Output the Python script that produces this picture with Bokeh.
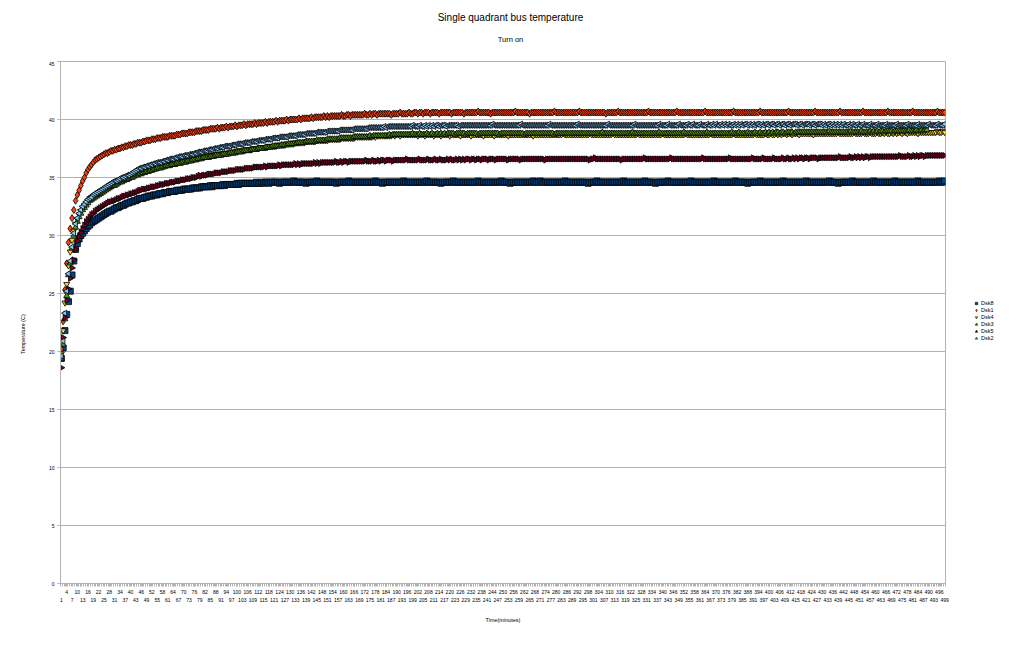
import math
from bokeh.plotting import figure
from bokeh.layouts import column, row
from bokeh.models import Range1d, FixedTicker, LinearAxis, Legend, LegendItem, Label
from bokeh.embed import file_html
from bokeh.resources import INLINE

# ---------------- data (temperature in C, one reading per minute) ----------------
SERIES = ["Dsk8", "Dsk1", "Dsk4", "Dsk3", "Dsk5", "Dsk2"]

dsk8 = [
    19.4, 20.3, 21.8, 23.2, 24.3, 25.2, 26.6, 27.8, 28.8, 29.3,
    29.7, 30.0, 30.2, 30.4, 30.6, 30.8, 30.9, 31.1, 31.2, 31.3,
    31.4, 31.5, 31.6, 31.7, 31.8, 31.9, 32.0, 32.1, 32.1, 32.2,
    32.3, 32.4, 32.4, 32.5, 32.6, 32.6, 32.7, 32.8, 32.8, 32.9,
    32.9, 33.0, 33.0, 33.1, 33.2, 33.2, 33.2, 33.3, 33.3, 33.4,
    33.4, 33.4, 33.5, 33.5, 33.5, 33.6, 33.6, 33.6, 33.7, 33.7,
    33.7, 33.8, 33.8, 33.8, 33.8, 33.9, 33.9, 33.9, 33.9, 34.0,
    34.0, 34.0, 34.0, 34.0, 34.1, 34.1, 34.1, 34.1, 34.1, 34.2,
    34.2, 34.2, 34.2, 34.2, 34.3, 34.2, 34.3, 34.3, 34.3, 34.3,
    34.3, 34.4, 34.3, 34.4, 34.4, 34.4, 34.4, 34.4, 34.4, 34.5,
    34.4, 34.5, 34.5, 34.5, 34.5, 34.5, 34.5, 34.5, 34.5, 34.5,
    34.6, 34.5, 34.5, 34.6, 34.5, 34.6, 34.6, 34.5, 34.6, 34.6,
    34.6, 34.6, 34.6, 34.5, 34.6, 34.6, 34.6, 34.6, 34.6, 34.6,
    34.6, 34.7, 34.6, 34.6, 34.6, 34.6, 34.6, 34.6, 34.5, 34.6,
    34.6, 34.6, 34.6, 34.6, 34.7, 34.6, 34.6, 34.6, 34.6, 34.6,
    34.6, 34.6, 34.6, 34.6, 34.6, 34.5, 34.6, 34.6, 34.6, 34.6,
    34.6, 34.6, 34.7, 34.6, 34.6, 34.6, 34.6, 34.6, 34.6, 34.6,
    34.6, 34.6, 34.6, 34.6, 34.6, 34.6, 34.6, 34.7, 34.6, 34.6,
    34.6, 34.5, 34.6, 34.6, 34.6, 34.6, 34.6, 34.6, 34.6, 34.6,
    34.6, 34.6, 34.6, 34.7, 34.6, 34.6, 34.6, 34.6, 34.6, 34.6,
    34.6, 34.6, 34.6, 34.6, 34.6, 34.6, 34.7, 34.6, 34.6, 34.6,
    34.6, 34.6, 34.6, 34.6, 34.5, 34.6, 34.6, 34.6, 34.6, 34.6,
    34.6, 34.7, 34.6, 34.6, 34.6, 34.6, 34.6, 34.6, 34.6, 34.6,
    34.6, 34.6, 34.6, 34.6, 34.6, 34.7, 34.6, 34.6, 34.6, 34.6,
    34.6, 34.6, 34.6, 34.6, 34.6, 34.6, 34.6, 34.6, 34.7, 34.6,
    34.6, 34.6, 34.6, 34.5, 34.6, 34.6, 34.6, 34.6, 34.6, 34.6,
    34.6, 34.6, 34.6, 34.6, 34.6, 34.6, 34.7, 34.6, 34.6, 34.6,
    34.7, 34.6, 34.6, 34.6, 34.6, 34.6, 34.6, 34.6, 34.6, 34.6,
    34.6, 34.6, 34.6, 34.6, 34.7, 34.6, 34.6, 34.6, 34.6, 34.6,
    34.6, 34.6, 34.6, 34.6, 34.6, 34.6, 34.6, 34.5, 34.6, 34.6,
    34.6, 34.6, 34.7, 34.6, 34.6, 34.6, 34.6, 34.6, 34.6, 34.6,
    34.6, 34.6, 34.6, 34.6, 34.6, 34.6, 34.6, 34.7, 34.6, 34.6,
    34.6, 34.6, 34.6, 34.6, 34.6, 34.6, 34.6, 34.6, 34.6, 34.7,
    34.6, 34.6, 34.6, 34.6, 34.6, 34.5, 34.6, 34.6, 34.6, 34.6,
    34.6, 34.6, 34.7, 34.6, 34.6, 34.6, 34.6, 34.6, 34.6, 34.6,
    34.6, 34.6, 34.6, 34.6, 34.6, 34.7, 34.6, 34.6, 34.6, 34.6,
    34.6, 34.6, 34.6, 34.6, 34.6, 34.6, 34.6, 34.6, 34.7, 34.6,
    34.6, 34.6, 34.6, 34.6, 34.6, 34.6, 34.6, 34.6, 34.6, 34.6,
    34.7, 34.6, 34.6, 34.6, 34.6, 34.6, 34.6, 34.5, 34.6, 34.6,
    34.6, 34.6, 34.6, 34.6, 34.7, 34.6, 34.6, 34.6, 34.6, 34.6,
    34.6, 34.6, 34.6, 34.6, 34.6, 34.6, 34.6, 34.7, 34.6, 34.6,
    34.6, 34.6, 34.6, 34.6, 34.6, 34.6, 34.6, 34.6, 34.6, 34.6,
    34.7, 34.6, 34.6, 34.6, 34.6, 34.6, 34.6, 34.6, 34.6, 34.6,
    34.6, 34.6, 34.6, 34.7, 34.6, 34.6, 34.6, 34.6, 34.5, 34.6,
    34.6, 34.6, 34.6, 34.6, 34.6, 34.6, 34.7, 34.6, 34.6, 34.6,
    34.6, 34.6, 34.6, 34.6, 34.6, 34.6, 34.6, 34.6, 34.7, 34.6,
    34.6, 34.6, 34.6, 34.6, 34.6, 34.6, 34.6, 34.6, 34.6, 34.6,
    34.7, 34.6, 34.6, 34.6, 34.6, 34.6, 34.6, 34.6, 34.6, 34.6,
    34.6, 34.6, 34.6, 34.7, 34.6, 34.6, 34.6, 34.6, 34.6, 34.6,
    34.6, 34.6, 34.6, 34.6, 34.6, 34.7, 34.6, 34.6, 34.7,
]

dsk1 = [
    20.2, 22.6, 25.3, 27.6, 29.4, 30.6, 31.5, 32.2, 33.0, 33.5,
    33.9, 34.3, 34.7, 35.0, 35.4, 35.7, 35.9, 36.1, 36.3, 36.5,
    36.6, 36.7, 36.8, 36.9, 37.0, 37.1, 37.1, 37.2, 37.3, 37.3,
    37.4, 37.4, 37.5, 37.5, 37.6, 37.6, 37.7, 37.7, 37.8, 37.8,
    37.8, 37.9, 37.9, 38.0, 38.0, 38.0, 38.1, 38.1, 38.2, 38.2,
    38.2, 38.3, 38.3, 38.3, 38.4, 38.4, 38.4, 38.5, 38.5, 38.5,
    38.5, 38.6, 38.6, 38.6, 38.6, 38.7, 38.7, 38.7, 38.8, 38.8,
    38.8, 38.8, 38.9, 38.9, 38.9, 38.9, 39.0, 39.0, 39.0, 39.0,
    39.1, 39.1, 39.1, 39.1, 39.2, 39.2, 39.2, 39.2, 39.3, 39.2,
    39.3, 39.3, 39.3, 39.4, 39.3, 39.4, 39.4, 39.4, 39.5, 39.4,
    39.5, 39.5, 39.5, 39.6, 39.5, 39.6, 39.6, 39.6, 39.6, 39.7,
    39.6, 39.7, 39.7, 39.7, 39.7, 39.8, 39.7, 39.8, 39.8, 39.8,
    39.8, 39.9, 39.8, 39.9, 39.9, 39.9, 39.9, 40.0, 39.9, 40.0,
    40.0, 40.0, 40.0, 40.0, 40.1, 40.0, 40.1, 40.1, 40.1, 40.1,
    40.1, 40.2, 40.1, 40.2, 40.2, 40.2, 40.2, 40.2, 40.3, 40.2,
    40.3, 40.2, 40.3, 40.3, 40.3, 40.3, 40.3, 40.3, 40.4, 40.3,
    40.3, 40.4, 40.4, 40.3, 40.4, 40.4, 40.4, 40.4, 40.4, 40.4,
    40.4, 40.5, 40.4, 40.4, 40.5, 40.4, 40.5, 40.5, 40.4, 40.5,
    40.5, 40.5, 40.5, 40.5, 40.5, 40.5, 40.4, 40.5, 40.5, 40.5,
    40.5, 40.6, 40.5, 40.5, 40.5, 40.5, 40.6, 40.5, 40.5, 40.6,
    40.6, 40.5, 40.6, 40.6, 40.5, 40.6, 40.6, 40.6, 40.5, 40.6,
    40.6, 40.6, 40.6, 40.5, 40.6, 40.6, 40.6, 40.6, 40.6, 40.6,
    40.5, 40.6, 40.6, 40.6, 40.6, 40.6, 40.6, 40.5, 40.6, 40.6,
    40.6, 40.6, 40.6, 40.6, 40.6, 40.7, 40.6, 40.6, 40.6, 40.6,
    40.6, 40.6, 40.5, 40.6, 40.6, 40.6, 40.6, 40.6, 40.6, 40.6,
    40.6, 40.6, 40.6, 40.6, 40.6, 40.6, 40.7, 40.6, 40.6, 40.6,
    40.6, 40.6, 40.6, 40.6, 40.5, 40.6, 40.6, 40.6, 40.6, 40.6,
    40.6, 40.6, 40.6, 40.6, 40.6, 40.6, 40.6, 40.6, 40.7, 40.6,
    40.6, 40.6, 40.6, 40.6, 40.6, 40.6, 40.6, 40.6, 40.6, 40.6,
    40.6, 40.6, 40.7, 40.6, 40.6, 40.6, 40.6, 40.6, 40.6, 40.6,
    40.6, 40.6, 40.6, 40.6, 40.6, 40.6, 40.6, 40.5, 40.6, 40.6,
    40.6, 40.6, 40.6, 40.6, 40.7, 40.6, 40.6, 40.6, 40.6, 40.6,
    40.6, 40.6, 40.6, 40.6, 40.6, 40.6, 40.6, 40.6, 40.6, 40.6,
    40.6, 40.7, 40.6, 40.6, 40.6, 40.6, 40.6, 40.6, 40.6, 40.6,
    40.6, 40.6, 40.6, 40.6, 40.6, 40.6, 40.6, 40.7, 40.6, 40.6,
    40.6, 40.6, 40.6, 40.6, 40.6, 40.6, 40.6, 40.6, 40.6, 40.6,
    40.6, 40.6, 40.6, 40.7, 40.6, 40.6, 40.6, 40.6, 40.6, 40.6,
    40.6, 40.6, 40.6, 40.6, 40.6, 40.6, 40.6, 40.6, 40.6, 40.7,
    40.6, 40.6, 40.6, 40.6, 40.6, 40.6, 40.6, 40.6, 40.6, 40.6,
    40.6, 40.6, 40.6, 40.6, 40.7, 40.6, 40.6, 40.6, 40.6, 40.6,
    40.6, 40.6, 40.6, 40.6, 40.6, 40.6, 40.6, 40.6, 40.6, 40.6,
    40.7, 40.6, 40.6, 40.6, 40.6, 40.6, 40.6, 40.6, 40.6, 40.6,
    40.6, 40.6, 40.6, 40.6, 40.6, 40.7, 40.6, 40.6, 40.6, 40.6,
    40.6, 40.6, 40.6, 40.6, 40.6, 40.6, 40.6, 40.6, 40.6, 40.7,
    40.6, 40.6, 40.6, 40.6, 40.6, 40.6, 40.6, 40.6, 40.6, 40.6,
    40.6, 40.6, 40.7, 40.6, 40.6, 40.6, 40.6, 40.6, 40.6, 40.6,
    40.6, 40.6, 40.6, 40.6, 40.6, 40.6, 40.7, 40.6, 40.6, 40.6,
    40.6, 40.6, 40.6, 40.6, 40.6, 40.6, 40.6, 40.6, 40.6, 40.6,
    40.7, 40.6, 40.6, 40.6, 40.6, 40.6, 40.6, 40.6, 40.6, 40.6,
    40.6, 40.6, 40.6, 40.6, 40.7, 40.6, 40.6, 40.6, 40.6,
]

dsk4 = [
    19.8, 21.8, 24.2, 25.8, 27.4, 28.6, 29.6, 30.4, 31.0, 31.4,
    31.8, 32.1, 32.4, 32.6, 32.8, 33.0, 33.2, 33.3, 33.4, 33.5,
    33.6, 33.7, 33.8, 33.9, 34.0, 34.1, 34.2, 34.3, 34.4, 34.4,
    34.5, 34.6, 34.7, 34.7, 34.8, 34.9, 34.9, 35.0, 35.1, 35.1,
    35.2, 35.2, 35.3, 35.4, 35.4, 35.5, 35.5, 35.6, 35.6, 35.7,
    35.7, 35.8, 35.8, 35.8, 35.9, 35.9, 36.0, 36.0, 36.0, 36.1,
    36.1, 36.2, 36.2, 36.2, 36.3, 36.3, 36.3, 36.4, 36.4, 36.4,
    36.5, 36.5, 36.5, 36.6, 36.6, 36.6, 36.7, 36.7, 36.7, 36.7,
    36.8, 36.8, 36.8, 36.9, 36.9, 36.9, 36.9, 37.0, 37.0, 37.0,
    37.0, 37.1, 37.1, 37.1, 37.1, 37.2, 37.2, 37.2, 37.2, 37.3,
    37.3, 37.3, 37.3, 37.4, 37.4, 37.4, 37.4, 37.4, 37.5, 37.5,
    37.5, 37.5, 37.6, 37.6, 37.6, 37.6, 37.6, 37.7, 37.7, 37.7,
    37.7, 37.7, 37.8, 37.8, 37.8, 37.8, 37.8, 37.9, 37.9, 37.9,
    37.9, 37.9, 38.0, 38.0, 38.0, 38.0, 38.0, 38.0, 38.1, 38.1,
    38.1, 38.1, 38.1, 38.1, 38.2, 38.2, 38.2, 38.2, 38.2, 38.2,
    38.2, 38.3, 38.3, 38.3, 38.3, 38.3, 38.3, 38.3, 38.4, 38.4,
    38.4, 38.4, 38.4, 38.4, 38.4, 38.4, 38.5, 38.5, 38.5, 38.5,
    38.5, 38.5, 38.5, 38.5, 38.5, 38.5, 38.6, 38.5, 38.6, 38.6,
    38.6, 38.6, 38.6, 38.6, 38.6, 38.6, 38.6, 38.7, 38.6, 38.7,
    38.7, 38.6, 38.7, 38.7, 38.7, 38.7, 38.7, 38.7, 38.7, 38.7,
    38.7, 38.6, 38.7, 38.7, 38.7, 38.6, 38.7, 38.7, 38.7, 38.7,
    38.6, 38.7, 38.7, 38.7, 38.6, 38.7, 38.7, 38.7, 38.7, 38.6,
    38.7, 38.7, 38.7, 38.7, 38.7, 38.6, 38.7, 38.7, 38.7, 38.7,
    38.7, 38.6, 38.7, 38.7, 38.7, 38.7, 38.7, 38.7, 38.6, 38.7,
    38.7, 38.7, 38.7, 38.7, 38.6, 38.7, 38.7, 38.7, 38.7, 38.7,
    38.7, 38.7, 38.6, 38.7, 38.7, 38.7, 38.7, 38.7, 38.7, 38.7,
    38.7, 38.7, 38.7, 38.7, 38.7, 38.7, 38.6, 38.7, 38.7, 38.7,
    38.7, 38.7, 38.7, 38.7, 38.7, 38.7, 38.7, 38.7, 38.7, 38.7,
    38.7, 38.7, 38.7, 38.8, 38.7, 38.7, 38.7, 38.7, 38.7, 38.7,
    38.7, 38.7, 38.7, 38.7, 38.7, 38.7, 38.7, 38.7, 38.8, 38.7,
    38.7, 38.7, 38.7, 38.7, 38.7, 38.7, 38.7, 38.7, 38.7, 38.7,
    38.7, 38.8, 38.7, 38.7, 38.7, 38.7, 38.7, 38.7, 38.7, 38.7,
    38.7, 38.7, 38.7, 38.7, 38.7, 38.8, 38.7, 38.7, 38.7, 38.7,
    38.7, 38.7, 38.7, 38.7, 38.7, 38.7, 38.7, 38.7, 38.7, 38.8,
    38.7, 38.7, 38.7, 38.7, 38.7, 38.7, 38.7, 38.7, 38.7, 38.7,
    38.7, 38.7, 38.8, 38.7, 38.7, 38.7, 38.7, 38.7, 38.7, 38.7,
    38.7, 38.7, 38.7, 38.7, 38.7, 38.7, 38.8, 38.7, 38.7, 38.7,
    38.7, 38.7, 38.7, 38.7, 38.7, 38.7, 38.7, 38.7, 38.7, 38.8,
    38.7, 38.7, 38.7, 38.7, 38.7, 38.7, 38.7, 38.7, 38.7, 38.7,
    38.7, 38.8, 38.7, 38.7, 38.7, 38.7, 38.7, 38.8, 38.7, 38.7,
    38.8, 38.7, 38.7, 38.8, 38.7, 38.8, 38.7, 38.8, 38.8, 38.7,
    38.8, 38.8, 38.7, 38.8, 38.8, 38.8, 38.7, 38.8, 38.8, 38.8,
    38.8, 38.8, 38.8, 38.8, 38.7, 38.8, 38.8, 38.8, 38.8, 38.8,
    38.8, 38.8, 38.8, 38.8, 38.8, 38.8, 38.8, 38.8, 38.9, 38.8,
    38.8, 38.8, 38.8, 38.8, 38.8, 38.8, 38.8, 38.9, 38.8, 38.8,
    38.8, 38.8, 38.9, 38.8, 38.8, 38.8, 38.9, 38.8, 38.8, 38.8,
    38.9, 38.8, 38.8, 38.9, 38.8, 38.9, 38.8, 38.8, 38.9, 38.8,
    38.9, 38.8, 38.9, 38.9, 38.8, 38.9, 38.9, 38.8, 38.9, 38.9,
    38.9, 38.9, 38.9, 38.8, 38.9, 38.9, 38.9, 38.9, 38.9, 38.9,
    38.9, 38.9, 38.9, 38.9, 39.0, 38.9, 38.9, 39.0, 38.9,
]

dsk3 = [
    19.4, 20.6, 22.8, 24.8, 26.6, 27.6, 28.9, 30.0, 30.7, 31.2,
    31.6, 31.9, 32.2, 32.4, 32.6, 32.8, 33.0, 33.1, 33.2, 33.3,
    33.4, 33.5, 33.6, 33.7, 33.8, 33.9, 34.0, 34.1, 34.2, 34.3,
    34.3, 34.4, 34.5, 34.6, 34.6, 34.7, 34.8, 34.8, 34.9, 35.0,
    35.0, 35.1, 35.2, 35.2, 35.3, 35.3, 35.4, 35.4, 35.5, 35.5,
    35.6, 35.6, 35.7, 35.7, 35.8, 35.8, 35.8, 35.9, 35.9, 36.0,
    36.0, 36.0, 36.1, 36.1, 36.1, 36.2, 36.2, 36.2, 36.3, 36.3,
    36.3, 36.4, 36.4, 36.4, 36.5, 36.5, 36.5, 36.6, 36.6, 36.6,
    36.7, 36.7, 36.7, 36.7, 36.8, 36.8, 36.8, 36.9, 36.9, 36.9,
    36.9, 37.0, 37.0, 37.0, 37.0, 37.1, 37.1, 37.1, 37.1, 37.2,
    37.2, 37.2, 37.2, 37.3, 37.3, 37.3, 37.3, 37.4, 37.4, 37.4,
    37.4, 37.5, 37.5, 37.5, 37.5, 37.6, 37.6, 37.6, 37.6, 37.7,
    37.7, 37.7, 37.7, 37.7, 37.8, 37.8, 37.8, 37.8, 37.9, 37.9,
    37.9, 37.9, 37.9, 38.0, 38.0, 38.0, 38.0, 38.0, 38.1, 38.1,
    38.1, 38.1, 38.1, 38.1, 38.2, 38.2, 38.2, 38.2, 38.2, 38.2,
    38.3, 38.3, 38.3, 38.3, 38.3, 38.3, 38.3, 38.4, 38.4, 38.4,
    38.4, 38.4, 38.4, 38.4, 38.4, 38.5, 38.5, 38.5, 38.5, 38.5,
    38.5, 38.5, 38.5, 38.5, 38.6, 38.5, 38.6, 38.6, 38.6, 38.6,
    38.6, 38.6, 38.6, 38.6, 38.6, 38.7, 38.6, 38.7, 38.7, 38.7,
    38.7, 38.7, 38.7, 38.7, 38.7, 38.7, 38.7, 38.7, 38.8, 38.7,
    38.7, 38.7, 38.8, 38.7, 38.7, 38.7, 38.8, 38.7, 38.7, 38.8,
    38.7, 38.7, 38.8, 38.7, 38.8, 38.7, 38.8, 38.7, 38.8, 38.8,
    38.8, 38.8, 38.7, 38.8, 38.8, 38.8, 38.8, 38.8, 38.7, 38.8,
    38.8, 38.8, 38.8, 38.8, 38.8, 38.7, 38.8, 38.8, 38.8, 38.8,
    38.8, 38.8, 38.8, 38.8, 38.8, 38.8, 38.8, 38.7, 38.8, 38.8,
    38.8, 38.8, 38.8, 38.8, 38.8, 38.8, 38.8, 38.8, 38.8, 38.8,
    38.8, 38.7, 38.8, 38.8, 38.8, 38.8, 38.8, 38.8, 38.8, 38.8,
    38.8, 38.8, 38.8, 38.8, 38.8, 38.8, 38.8, 38.8, 38.7, 38.8,
    38.8, 38.8, 38.8, 38.8, 38.8, 38.8, 38.8, 38.8, 38.8, 38.8,
    38.8, 38.8, 38.8, 38.8, 38.8, 38.8, 38.8, 38.8, 38.8, 38.8,
    38.8, 38.8, 38.8, 38.8, 38.8, 38.9, 38.8, 38.8, 38.8, 38.8,
    38.8, 38.8, 38.8, 38.8, 38.8, 38.8, 38.8, 38.8, 38.8, 38.8,
    38.8, 38.8, 38.9, 38.8, 38.8, 38.8, 38.8, 38.8, 38.8, 38.8,
    38.8, 38.8, 38.8, 38.8, 38.8, 38.8, 38.8, 38.9, 38.8, 38.8,
    38.8, 38.8, 38.8, 38.8, 38.8, 38.8, 38.8, 38.8, 38.8, 38.8,
    38.8, 38.9, 38.8, 38.8, 38.8, 38.8, 38.8, 38.8, 38.8, 38.8,
    38.8, 38.8, 38.8, 38.8, 38.9, 38.8, 38.8, 38.8, 38.8, 38.8,
    38.8, 38.8, 38.8, 38.8, 38.8, 38.8, 38.8, 38.8, 38.9, 38.8,
    38.8, 38.8, 38.9, 38.8, 38.8, 38.8, 38.8, 38.9, 38.8, 38.8,
    38.8, 38.9, 38.8, 38.8, 38.9, 38.8, 38.8, 38.9, 38.8, 38.9,
    38.8, 38.9, 38.8, 38.9, 38.9, 38.8, 38.9, 38.9, 38.8, 38.9,
    38.9, 38.9, 38.9, 38.8, 38.9, 38.9, 38.9, 38.9, 38.9, 38.9,
    38.9, 38.9, 38.9, 38.9, 38.9, 38.9, 38.9, 38.9, 38.9, 38.9,
    38.9, 38.9, 38.9, 39.0, 38.9, 38.9, 38.9, 38.9, 38.9, 38.9,
    38.9, 38.9, 38.9, 38.9, 38.9, 39.0, 38.9, 38.9, 38.9, 38.9,
    38.9, 39.0, 38.9, 38.9, 38.9, 38.9, 39.0, 38.9, 39.0, 38.9,
    39.0, 38.9, 39.0, 39.0, 38.9, 39.0, 39.0, 39.0, 39.0, 38.9,
    39.0, 39.0, 39.0, 39.0, 39.0, 39.0, 39.0, 39.0, 39.1, 39.0,
    39.0, 39.0, 39.1, 39.0, 39.0, 39.1, 39.0, 39.1, 39.1,
]

dsk5 = [
    18.6, 21.2, 22.9, 24.4, 25.4, 26.3, 27.2, 27.9, 28.8, 29.5,
    29.9, 30.3, 30.6, 30.9, 31.2, 31.4, 31.6, 31.8, 31.9, 32.1,
    32.2, 32.3, 32.4, 32.5, 32.6, 32.7, 32.8, 32.9, 32.9, 33.0,
    33.0, 33.1, 33.2, 33.2, 33.3, 33.4, 33.4, 33.5, 33.5, 33.6,
    33.6, 33.7, 33.7, 33.8, 33.9, 33.9, 34.0, 34.0, 34.0, 34.1,
    34.1, 34.2, 34.2, 34.2, 34.3, 34.3, 34.4, 34.4, 34.4, 34.5,
    34.5, 34.5, 34.6, 34.6, 34.6, 34.7, 34.7, 34.7, 34.8, 34.8,
    34.8, 34.9, 34.9, 34.9, 35.0, 35.0, 35.0, 35.1, 35.2, 35.1,
    35.2, 35.2, 35.2, 35.3, 35.3, 35.3, 35.3, 35.4, 35.4, 35.4,
    35.4, 35.5, 35.5, 35.5, 35.5, 35.6, 35.6, 35.6, 35.6, 35.7,
    35.7, 35.7, 35.7, 35.7, 35.8, 35.8, 35.8, 35.8, 35.8, 35.9,
    35.9, 35.9, 35.9, 35.9, 35.9, 36.0, 35.9, 36.0, 36.0, 36.0,
    36.0, 36.0, 36.0, 36.1, 36.0, 36.1, 36.1, 36.1, 36.1, 36.1,
    36.1, 36.1, 36.2, 36.1, 36.2, 36.1, 36.2, 36.2, 36.2, 36.2,
    36.2, 36.2, 36.2, 36.3, 36.2, 36.3, 36.2, 36.3, 36.3, 36.3,
    36.3, 36.3, 36.3, 36.3, 36.3, 36.4, 36.3, 36.3, 36.4, 36.3,
    36.4, 36.4, 36.3, 36.4, 36.4, 36.4, 36.4, 36.4, 36.4, 36.4,
    36.4, 36.4, 36.5, 36.4, 36.4, 36.4, 36.5, 36.4, 36.4, 36.5,
    36.4, 36.5, 36.5, 36.4, 36.5, 36.5, 36.5, 36.4, 36.5, 36.5,
    36.5, 36.5, 36.5, 36.5, 36.5, 36.6, 36.5, 36.5, 36.5, 36.5,
    36.5, 36.5, 36.6, 36.5, 36.5, 36.5, 36.5, 36.6, 36.5, 36.5,
    36.5, 36.6, 36.5, 36.5, 36.6, 36.5, 36.5, 36.5, 36.6, 36.5,
    36.6, 36.5, 36.5, 36.6, 36.5, 36.6, 36.5, 36.6, 36.5, 36.6,
    36.6, 36.5, 36.6, 36.6, 36.5, 36.6, 36.6, 36.5, 36.6, 36.6,
    36.6, 36.5, 36.6, 36.6, 36.6, 36.5, 36.6, 36.6, 36.6, 36.6,
    36.6, 36.6, 36.5, 36.6, 36.6, 36.6, 36.6, 36.6, 36.6, 36.5,
    36.6, 36.6, 36.6, 36.6, 36.6, 36.6, 36.6, 36.6, 36.6, 36.6,
    36.6, 36.6, 36.6, 36.5, 36.6, 36.6, 36.6, 36.6, 36.6, 36.6,
    36.6, 36.6, 36.6, 36.6, 36.6, 36.6, 36.6, 36.6, 36.6, 36.6,
    36.6, 36.6, 36.6, 36.6, 36.6, 36.6, 36.6, 36.6, 36.5, 36.6,
    36.6, 36.7, 36.6, 36.6, 36.6, 36.6, 36.6, 36.6, 36.6, 36.6,
    36.6, 36.6, 36.6, 36.6, 36.6, 36.6, 36.5, 36.6, 36.6, 36.6,
    36.6, 36.6, 36.6, 36.6, 36.6, 36.6, 36.6, 36.6, 36.6, 36.7,
    36.6, 36.6, 36.6, 36.6, 36.6, 36.6, 36.6, 36.6, 36.6, 36.6,
    36.6, 36.6, 36.6, 36.6, 36.7, 36.6, 36.6, 36.6, 36.6, 36.6,
    36.6, 36.6, 36.6, 36.6, 36.6, 36.6, 36.6, 36.6, 36.6, 36.6,
    36.6, 36.6, 36.7, 36.6, 36.6, 36.6, 36.6, 36.6, 36.6, 36.6,
    36.6, 36.6, 36.6, 36.6, 36.6, 36.6, 36.6, 36.7, 36.6, 36.6,
    36.6, 36.6, 36.6, 36.6, 36.6, 36.6, 36.6, 36.6, 36.6, 36.6,
    36.7, 36.6, 36.6, 36.6, 36.6, 36.6, 36.7, 36.6, 36.6, 36.6,
    36.6, 36.6, 36.7, 36.6, 36.6, 36.6, 36.6, 36.7, 36.6, 36.6,
    36.7, 36.6, 36.6, 36.7, 36.6, 36.7, 36.6, 36.7, 36.7, 36.6,
    36.7, 36.7, 36.6, 36.7, 36.7, 36.7, 36.7, 36.6, 36.7, 36.7,
    36.7, 36.7, 36.7, 36.7, 36.7, 36.7, 36.7, 36.7, 36.7, 36.8,
    36.7, 36.7, 36.7, 36.7, 36.7, 36.8, 36.7, 36.7, 36.8, 36.7,
    36.8, 36.7, 36.8, 36.7, 36.8, 36.8, 36.7, 36.8, 36.8, 36.8,
    36.8, 36.8, 36.8, 36.8, 36.8, 36.8, 36.8, 36.8, 36.8, 36.8,
    36.8, 36.8, 36.8, 36.9, 36.8, 36.8, 36.8, 36.8, 36.9, 36.8,
    36.8, 36.9, 36.8, 36.9, 36.8, 36.9, 36.9, 36.8, 36.9, 36.9,
    36.9, 36.9, 36.9, 36.9, 36.9, 36.9, 36.9, 36.9, 36.9,
]

dsk2 = [
    19.6, 20.9, 23.3, 25.2, 26.7, 27.8, 29.0, 30.2, 31.0, 31.5,
    31.9, 32.2, 32.5, 32.7, 32.9, 33.1, 33.2, 33.3, 33.5, 33.6,
    33.7, 33.8, 33.9, 34.0, 34.1, 34.2, 34.3, 34.4, 34.5, 34.6,
    34.7, 34.7, 34.8, 34.9, 35.0, 35.0, 35.1, 35.2, 35.2, 35.3,
    35.4, 35.5, 35.6, 35.7, 35.8, 35.8, 35.9, 35.9, 36.0, 36.0,
    36.1, 36.1, 36.2, 36.2, 36.3, 36.3, 36.3, 36.4, 36.4, 36.5,
    36.5, 36.6, 36.6, 36.6, 36.7, 36.7, 36.8, 36.8, 36.8, 36.9,
    36.9, 36.9, 37.0, 37.0, 37.0, 37.1, 37.1, 37.2, 37.2, 37.2,
    37.3, 37.3, 37.3, 37.4, 37.4, 37.4, 37.5, 37.5, 37.5, 37.6,
    37.6, 37.6, 37.7, 37.7, 37.7, 37.7, 37.8, 37.8, 37.8, 37.9,
    37.9, 37.9, 37.9, 38.0, 38.0, 38.0, 38.0, 38.1, 38.1, 38.1,
    38.1, 38.2, 38.2, 38.2, 38.2, 38.3, 38.3, 38.3, 38.3, 38.4,
    38.4, 38.4, 38.4, 38.5, 38.5, 38.5, 38.5, 38.5, 38.6, 38.6,
    38.6, 38.6, 38.6, 38.7, 38.7, 38.7, 38.7, 38.7, 38.8, 38.8,
    38.8, 38.8, 38.8, 38.8, 38.9, 38.9, 38.9, 38.9, 38.9, 38.9,
    39.0, 39.0, 39.0, 39.0, 39.0, 39.0, 39.0, 39.1, 39.1, 39.1,
    39.1, 39.1, 39.1, 39.1, 39.1, 39.2, 39.2, 39.2, 39.2, 39.2,
    39.2, 39.2, 39.2, 39.3, 39.3, 39.3, 39.3, 39.3, 39.3, 39.3,
    39.3, 39.3, 39.4, 39.3, 39.4, 39.4, 39.4, 39.4, 39.4, 39.4,
    39.4, 39.4, 39.4, 39.4, 39.4, 39.4, 39.4, 39.4, 39.5, 39.4,
    39.4, 39.4, 39.5, 39.4, 39.4, 39.5, 39.4, 39.5, 39.4, 39.5,
    39.4, 39.5, 39.5, 39.4, 39.5, 39.5, 39.5, 39.4, 39.5, 39.5,
    39.5, 39.5, 39.5, 39.5, 39.4, 39.5, 39.5, 39.5, 39.5, 39.5,
    39.5, 39.5, 39.5, 39.5, 39.5, 39.5, 39.5, 39.5, 39.5, 39.5,
    39.5, 39.5, 39.5, 39.6, 39.5, 39.5, 39.5, 39.5, 39.5, 39.5,
    39.5, 39.5, 39.5, 39.5, 39.5, 39.5, 39.5, 39.5, 39.5, 39.6,
    39.5, 39.5, 39.5, 39.5, 39.5, 39.5, 39.5, 39.5, 39.5, 39.5,
    39.5, 39.5, 39.5, 39.5, 39.5, 39.6, 39.5, 39.5, 39.5, 39.5,
    39.5, 39.5, 39.5, 39.5, 39.5, 39.5, 39.5, 39.5, 39.5, 39.5,
    39.5, 39.6, 39.5, 39.5, 39.5, 39.5, 39.5, 39.5, 39.5, 39.5,
    39.5, 39.5, 39.5, 39.5, 39.5, 39.5, 39.5, 39.5, 39.6, 39.5,
    39.5, 39.5, 39.5, 39.5, 39.5, 39.5, 39.5, 39.5, 39.5, 39.5,
    39.5, 39.5, 39.5, 39.6, 39.5, 39.5, 39.5, 39.5, 39.5, 39.5,
    39.5, 39.5, 39.5, 39.5, 39.5, 39.5, 39.5, 39.6, 39.5, 39.5,
    39.5, 39.5, 39.6, 39.5, 39.5, 39.5, 39.5, 39.5, 39.6, 39.5,
    39.5, 39.5, 39.5, 39.6, 39.5, 39.5, 39.6, 39.5, 39.5, 39.5,
    39.6, 39.5, 39.5, 39.5, 39.6, 39.5, 39.5, 39.6, 39.5, 39.6,
    39.5, 39.5, 39.6, 39.5, 39.6, 39.5, 39.6, 39.5, 39.5, 39.6,
    39.5, 39.6, 39.5, 39.6, 39.5, 39.6, 39.6, 39.5, 39.6, 39.5,
    39.6, 39.5, 39.6, 39.6, 39.5, 39.6, 39.5, 39.6, 39.6, 39.5,
    39.6, 39.6, 39.5, 39.6, 39.6, 39.5, 39.6, 39.6, 39.5, 39.6,
    39.6, 39.5, 39.6, 39.6, 39.6, 39.5, 39.6, 39.6, 39.5, 39.6,
    39.6, 39.6, 39.5, 39.6, 39.6, 39.5, 39.6, 39.6, 39.6, 39.5,
    39.6, 39.5, 39.6, 39.6, 39.5, 39.6, 39.5, 39.6, 39.5, 39.6,
    39.5, 39.6, 39.5, 39.5, 39.6, 39.5, 39.6, 39.5, 39.5, 39.6,
    39.5, 39.5, 39.6, 39.5, 39.5, 39.5, 39.6, 39.5, 39.5, 39.5,
    39.6, 39.5, 39.5, 39.5, 39.5, 39.6, 39.5, 39.5, 39.5, 39.5,
    39.5, 39.6, 39.5, 39.5, 39.5, 39.5, 39.5, 39.6, 39.5, 39.5,
    39.5, 39.5, 39.5, 39.6, 39.5, 39.5, 39.5, 39.5, 39.5, 39.6,
    39.5, 39.5, 39.5, 39.5, 39.6, 39.5, 39.5, 39.5, 39.6,
]

VALUES = [dsk8, dsk1, dsk4, dsk3, dsk5, dsk2]
N_CATS = 499
TOP_LABELS = list(range(4, N_CATS + 1, 6))      # upper row of category labels
BOTTOM_LABELS = list(range(1, N_CATS + 1, 6))   # lower row of category labels
Y_TICKS = list(range(0, 46, 5))
TITLE = "Single quadrant bus temperature"
SUBTITLE = "Turn on"
X_TITLE = "Time(minutes)"
Y_TITLE = "Temperature (C)"

# ---------------- styling ----------------
COLORS = ["#004586", "#ff420e", "#ffd320", "#579d1c", "#7e0021", "#83caff"]
MARKERS = ["square", "diamond", "inverted_triangle", "triangle", "triangle", "triangle"]
ANGLES = [0, 0, 0, 0, -math.pi / 2, math.pi / 2]
SIZES = [6, 7, 6, 6, 6, 6]
FONT = "Liberation Sans"
GRID = "#b3b3b3"
W, H, TOP_H = 1020, 649, 61
LEFT_W, LEGEND_W = 30, 65
MAIN_W = W - LEFT_W - LEGEND_W
BOTTOM = 66


def bare(fig):
    fig.axis.visible = False
    fig.grid.visible = False
    return fig


# ---- title strip (pixel-space figure above the chart) ----
top = bare(figure(width=W, height=TOP_H, output_backend="svg", toolbar_location=None,
                  x_range=Range1d(0, W), y_range=Range1d(TOP_H, 0), min_border=0,
                  outline_line_color=None, background_fill_color="white",
                  border_fill_color="white"))
top.add_layout(Label(x=510, y=17, text=TITLE, text_font=FONT, text_font_size="10px",
                     text_align="center", text_baseline="middle", text_color="black"))
top.add_layout(Label(x=510, y=39, text=SUBTITLE, text_font=FONT, text_font_size="7.5px",
                     text_align="center", text_baseline="middle", text_color="black"))

# ---- y-title strip (shares the chart's vertical scale) ----
ls = bare(figure(width=LEFT_W, height=H - TOP_H, output_backend="svg", toolbar_location=None,
                 x_range=Range1d(0, LEFT_W), y_range=Range1d(0, 45),
                 min_border_left=0, min_border_right=0, min_border_top=0,
                 min_border_bottom=BOTTOM, outline_line_color=None,
                 background_fill_color="white", border_fill_color="white"))
ls.add_layout(Label(x=22, y=21.5, text=Y_TITLE, text_font=FONT, text_font_size="5.5px",
                    angle=math.pi / 2, text_align="center", text_baseline="middle",
                    text_color="black"))

# ---- main chart ----
p = figure(width=MAIN_W, height=H - TOP_H, output_backend="svg", toolbar_location=None,
           x_range=Range1d(0.5, N_CATS + 0.5), y_range=Range1d(0, 45),
           min_border_left=60 - LEFT_W, min_border_right=10, min_border_top=0,
           min_border_bottom=BOTTOM, background_fill_color="white", border_fill_color="white")
p.outline_line_color = GRID
p.xgrid.grid_line_color = None
p.ygrid.grid_line_color = GRID
p.ygrid.ticker = FixedTicker(ticks=Y_TICKS)

# y axis
ya = p.yaxis[0]
ya.ticker = FixedTicker(ticks=Y_TICKS)
ya.axis_line_color = GRID
ya.major_tick_line_color = GRID
ya.major_tick_out = 3
ya.major_tick_in = 0
ya.minor_tick_line_color = None
ya.major_label_text_font = FONT
ya.major_label_text_font_size = "5px"
ya.major_label_text_color = "black"
ya.major_label_standoff = 3

# x axis (upper label row + comb of category ticks)
xa = p.xaxis[0]
xa.ticker = FixedTicker(ticks=TOP_LABELS, minor_ticks=[c + 0.5 for c in range(0, N_CATS + 1)])
xa.axis_line_color = GRID
xa.major_tick_line_color = GRID
xa.minor_tick_line_color = GRID
xa.major_tick_out = 3
xa.major_tick_in = 0
xa.minor_tick_out = 3
xa.minor_tick_in = 0
xa.major_label_text_font = FONT
xa.major_label_text_font_size = "5px"
xa.major_label_text_color = "black"
xa.major_label_standoff = 3

# lower label row
xb = LinearAxis(ticker=FixedTicker(ticks=BOTTOM_LABELS))
xb.axis_line_color = None
xb.major_tick_line_color = None
xb.minor_tick_line_color = None
xb.major_tick_out = 0
xb.major_tick_in = 0
xb.major_label_text_font = FONT
xb.major_label_text_font_size = "5px"
xb.major_label_text_color = "black"
xb.major_label_standoff = 1
xb.axis_label = X_TITLE
xb.axis_label_text_font = FONT
xb.axis_label_text_font_size = "5.5px"
xb.axis_label_text_font_style = "normal"
xb.axis_label_text_color = "black"
xb.axis_label_standoff = 12
p.add_layout(xb, "below")

# ---- legend strip: same series, kept out of view, only feeding the legend ----
lf = bare(figure(width=LEGEND_W, height=H - TOP_H, output_backend="svg",
                 toolbar_location=None, x_range=Range1d(-3, -2), y_range=Range1d(-3, -2),
                 min_border_left=0, min_border_right=0, min_border_top=0,
                 min_border_bottom=BOTTOM, outline_line_color=None,
                 background_fill_color="white", border_fill_color="white"))

items = []
for name, vals, col, mk, ang, sz in zip(SERIES, VALUES, COLORS, MARKERS, ANGLES, SIZES):
    xs = list(range(1, len(vals) + 1))
    style = dict(marker=mk, angle=ang, fill_color=col, line_color="black")
    p.scatter(xs, vals, size=sz, line_width=0.8, **style)
    r = lf.scatter(xs, vals, size=5, line_width=0.6, **style)
    items.append(LegendItem(label=name, renderers=[r]))

legend = Legend(items=items, location=(18, 242))
legend.border_line_color = None
legend.background_fill_alpha = 0
legend.padding = 0
legend.margin = 0
legend.spacing = 1
legend.glyph_width = 6
legend.glyph_height = 6
legend.label_height = 6
legend.label_standoff = 2
legend.label_text_font = FONT
legend.label_text_font_size = "5.5px"
legend.label_text_color = "black"
lf.add_layout(legend)

layout = column(top, row(ls, p, lf, spacing=0), spacing=0)
open("out.html", "w").write(file_html(layout, INLINE))
